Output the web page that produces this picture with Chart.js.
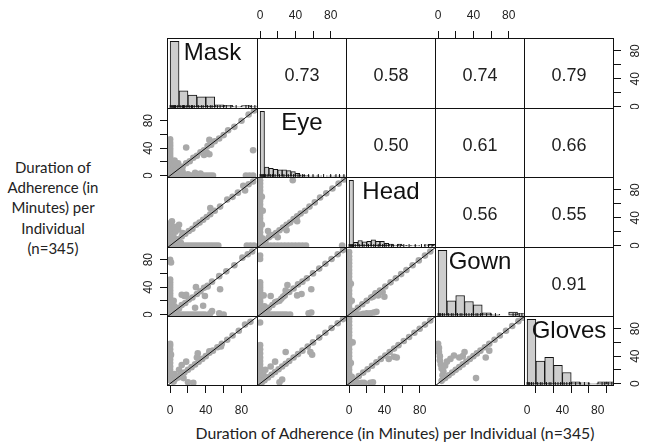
<!DOCTYPE html>
<html>
<head>
<meta charset="utf-8">
<script src="https://cdn.jsdelivr.net/npm/chart.js@4.4.1/dist/chart.umd.min.js"></script>
<style>
  html, body { margin: 0; padding: 0; background: #fff; }
  #wrap { position: relative; width: 655px; height: 443px; overflow: hidden; }
  #wrap canvas { position: absolute; }
  .lab { position: absolute; font-family: Lato, "Open Sans", sans-serif; color: #222; text-align: center; white-space: nowrap; }
</style>
</head>
<body>
<div id="wrap">
  <div class="lab" style="left:-2px;top:157px;width:110px;font-size:15px;line-height:20.2px;">Duration of<br>Adherence (in<br>Minutes) per<br>Individual<br>(n=345)</div>
  <div class="lab" style="left:160px;top:422px;width:470px;font-size:15.8px;line-height:21px;">Duration of Adherence (in Minutes) per Individual (n=345)</div>
</div>
<script>
// variables (diagonal), correlation text (upper triangle)
const variables = ['Mask', 'Eye', 'Head', 'Gown', 'Gloves'];
const correlations = [
  [null, 0.73, 0.58, 0.74, 0.79],
  [null, null, 0.50, 0.61, 0.66],
  [null, null, null, 0.56, 0.55],
  [null, null, null, null, 0.91]
];

// axis ticks
const tickValues = [0, 20, 40, 60, 80];
const tickLabels = ['0', '', '40', '', '80'];

// histogram bins and counts (n = 345)
const bins10 = [0, 10, 20, 30, 40, 50, 60, 70, 80, 90];
const bins5 = [0, 5, 10, 15, 20, 25, 30, 35, 40, 45, 50, 55, 60, 65, 70, 75, 80, 85, 90, 95];
const maskCounts = [187, 46, 34, 29, 29, 6, 5, 2, 4, 3];
const eyeCounts = [190, 26, 23, 20, 18, 18, 16, 13, 8, 3, 2, 1, 1, 1, 0, 1, 1, 1, 1, 1];
const headCounts = [201, 11, 17, 13, 14, 19, 14, 14, 8, 6, 3, 6, 2, 1, 1, 1, 0, 4, 5, 5];
const gownCounts = [172, 38, 52, 36, 27, 6, 2, 0, 8, 4];
const glovesCounts = [146, 52, 60, 42, 26, 5, 3, 1, 5, 5];

// rug values under each histogram
const maskRug = [0,1,2,3,4,5,6,8,10,12,14,15,16,18,20,22,24,25,27,30,32,35,37,40,42,45,47,50,53,56,60,63,68,74,85,88,91,95];
const eyeRug = [0,1,2,3,4,5,6,8,10,12,14,15,17,20,22,25,27,30,32,35,38,40,43,45,48,50,55,60,66,72,80,86,90,95];
const headRug = [0,1,2,3,4,5,7,10,12,15,17,20,22,25,28,30,33,35,38,40,42,45,48,50,55,58,62,68,75,82,86,90,94];
const gownRug = [0,1,2,3,5,7,10,12,15,17,20,22,25,27,30,32,35,38,40,43,45,48,50,55,60,65,85,88,92,95];
const glovesRug = [0,1,2,3,5,7,10,12,15,17,20,22,25,27,30,32,35,38,40,42,45,48,50,55,60,65,70,85,88,92,96];

// scatter panels: [x, y] in minutes (x = column variable, y = row variable)
const maskEye = [
  [0,0],[3,0],[6,0],[9,0],[12,0],[15,0],[18,0],[21,0],[24,0],[27,0],[30,0],[33,0],[36,0],[39,0],[42,0],[45,0],[48,0],[85,0],[89,0],[93,0],
  [0,4],[0,8],[0,12],[0,16],[0,20],[0,24],[0,28],[0,32],[0,36],[0,40],[0,44],[0,48],[0,53],
  [3,6],[4,14],[5,22],[7,10],[9,18],[10,3],[14,6],[20,2],[28,4],[34,3],
  [6,6],[10,10],[14,13],[18,18],[22,21],[26,26],[30,29],[34,34],[38,37],[42,43],[46,45],[50,50],[55,54],[60,59],[65,66],[72,71],[80,80],[88,89],[94,95],
  [18,41],[41,34],[44,31],[38,30],[93,37],[44,52]
];
const maskHead = [
  [0,0],[3,0],[6,0],[9,0],[12,0],[15,0],[18,0],[21,0],[24,0],[27,0],[30,0],[33,0],[36,0],[39,0],[42,0],[45,0],[48,0],[51,0],[54,0],[86,0],[90,0],[94,0],
  [0,4],[0,8],[0,12],[0,16],[0,20],[0,24],[0,28],[0,32],[2,35],
  [3,5],[4,12],[6,20],[8,8],[10,30],[12,4],[5,27],[9,23],[14,18],
  [5,5],[9,9],[13,13],[17,17],[21,21],[25,24],[29,30],[33,33],[37,37],[41,41],[45,45],[50,50],[56,56],[64,66],[70,70],[76,76],[82,86],[88,88],[93,92],
  [45,54],[84,79]
];
const eyeHead = [
  [0,4],[0,9],[0,14],[0,19],[0,24],[0,29],[0,34],[0,39],[0,44],[0,49],[0,54],[0,59],[0,64],[0,69],[0,74],[0,79],[0,84],[0,89],[0,94],
  [2,30],[3,50],[3,10],[5,5],[2,70],
  [0,0],[4,0],[8,0],[12,0],[16,0],[20,0],[24,0],[28,0],[32,0],[36,0],[40,0],[44,0],[48,0],[52,0],[93,0],
  [6,6],[10,12],[14,15],[18,18],[22,22],[26,26],[30,30],[34,33],[38,38],[42,42],[46,46],[51,50],[56,56],[62,62],[68,69],[75,75],[82,82],[89,89],[95,95],
  [9,21],[37,94],[42,35],[11,14],[20,12],[30,22]
];
const maskGown = [
  [0,3],[0,7],[0,11],[0,15],[0,19],[0,23],[0,27],[0,31],[0,35],[0,39],[0,43],[0,47],[0,51],[0,80],[1,76],
  [0,0],[3,0],[6,0],[9,0],[12,0],[15,0],[18,0],[21,0],[24,0],[27,0],[30,0],[33,0],[36,0],[39,0],[45,2],[55,2],[60,0],
  [3,6],[5,12],[7,4],[10,9],[4,20],[16,27],[13,29],[18,29],
  [29,40],[42,41],[56,37],[39,27],[37,13],[28,10],[47,5],
  [5,5],[9,9],[13,14],[17,17],[21,22],[25,25],[30,30],[34,34],[38,39],[42,42],[47,48],[55,56],[63,63],[72,72],[81,83],[87,88],[92,92]
];
const eyeGown = [
  [0,3],[0,7],[0,11],[0,15],[0,19],[0,23],[0,27],[0,31],[0,35],[0,39],[0,43],[0,47],[0,81],[0,86],
  [0,0],[3,0],[6,0],[9,0],[12,0],[15,0],[18,0],[21,0],[24,0],[27,0],[30,0],[34,0],[55,2],[58,3],
  [3,5],[5,12],[4,28],[8,7],[12,27],
  [17,18],[26,26],[42,28],[47,30],[31,43],[29,35],[58,37],[22,20],
  [5,5],[10,10],[14,14],[19,19],[24,23],[28,28],[33,33],[38,38],[43,44],[48,48],[53,53],[60,60],[67,67],[74,74],[81,81],[88,88],[94,94]
];
const headGown = [
  [0,0],[0,5],[0,10],[0,15],[0,20],[0,25],[0,30],[0,35],[0,40],[0,45],[0,50],[0,55],[0,60],[0,65],[0,70],[0,75],[0,80],[0,85],[0,91],
  [4,1],[8,1],[12,0],[16,1],[20,2],[24,2],[28,3],[31,4],
  [27,26],[38,33],[40,26],[30,31],[33,28],[2,45],[3,20],
  [5,5],[10,10],[15,15],[20,20],[25,25],[30,30],[35,35],[41,41],[47,47],[53,53],[59,59],[65,65],[72,72],[79,79],[86,86],[92,92]
];
const maskGloves = [
  [0,5],[0,10],[0,15],[0,20],[0,25],[0,30],[0,35],[0,40],[0,45],[0,50],[0,55],[0,58],
  [2,12],[5,14],[8,10],[12,13],[15,8],[4,3],[26,1],[20,2],
  [3,3],[6,7],[9,9],[12,12],[16,16],[20,20],[24,24],[28,28],[32,32],[36,36],[40,40],[44,45],[48,48],[53,53],[58,58],[64,64],[70,70],[77,77],[84,86],[90,90],
  [31,44],[18,32],[13,27],[44,47],[57,54],[1,42],[10,20],[30,38]
];
const eyeGloves = [
  [0,3],[0,8],[0,13],[0,18],[0,23],[0,28],[0,33],[0,38],[0,44],[0,50],[0,56],[0,89],
  [3,5],[4,12],[6,20],[2,2],
  [29,46],[17,32],[25,6],[22,2],[57,46],[59,42],[12,25],
  [5,5],[9,9],[13,13],[17,17],[21,21],[25,25],[29,29],[33,33],[38,38],[43,43],[48,48],[54,54],[60,60],[67,67],[74,74],[81,81],[88,88],[94,94]
];
const headGloves = [
  [0,0],[0,5],[0,10],[0,15],[0,20],[0,25],[0,30],[0,35],[0,40],[0,45],[0,50],[0,55],[0,60],[0,65],[0,70],[0,75],[0,80],[0,85],[0,90],[0,95],
  [4,1],[9,2],[14,1],[17,1],[24,1],[27,2],
  [51,39],[54,38],[45,36],[3,10],[2,30],[4,60],
  [6,6],[11,11],[16,16],[21,21],[26,26],[31,31],[36,36],[41,41],[46,46],[51,51],[56,56],[62,62],[68,68],[74,74],[80,80],[86,86],[92,92]
];
const gownGloves = [
  [0,58],[1,52],[1,46],[2,40],[2,34],[3,28],[4,22],[6,18],[8,26],[10,32],[5,12],
  [18,41],[28,40],[30,46],[24,38],[14,36],
  [54,38],[43,8],[58,48],
  [4,4],[8,8],[12,12],[16,16],[20,20],[24,24],[28,28],[32,32],[36,36],[40,40],[44,44],[48,48],[53,53],[58,58],[64,64],[70,70],[77,77],[84,84],[91,91],[96,96]
];

// y = x reference line end values
const refLine = [-10, 110];

// lookups built from the arrays above
const histograms = [
  { starts: bins10, width: 10, counts: maskCounts, rug: maskRug },
  { starts: bins5, width: 5, counts: eyeCounts, rug: eyeRug },
  { starts: bins5, width: 5, counts: headCounts, rug: headRug },
  { starts: bins10, width: 10, counts: gownCounts, rug: gownRug },
  { starts: bins10, width: 10, counts: glovesCounts, rug: glovesRug }
];
const scatterPoints = {
  '1,0': maskEye, '2,0': maskHead, '2,1': eyeHead,
  '3,0': maskGown, '3,1': eyeGown, '3,2': headGown,
  '4,0': maskGloves, '4,1': eyeGloves, '4,2': headGloves, '4,3': gownGloves
};

// layout
const colEdges = [167, 257, 346, 435, 524, 613];
const rowEdges = [38, 108, 177, 247, 316, 385];
const axisMin = -3.5, axisMax = 98.5;
const tickFont = { family: '"Liberation Sans", Arial, sans-serif', size: 12 };

Chart.defaults.animation = false;
Chart.defaults.responsive = false;
Chart.defaults.events = [];
Chart.defaults.plugins.legend.display = false;
Chart.defaults.plugins.tooltip.enabled = false;

function axisScale(isX, position, show, margin, pad) {
  return {
    type: 'linear',
    position: position,
    display: show,
    min: axisMin,
    max: axisMax,
    offset: false,
    grid: { drawOnChartArea: false, drawTicks: true, tickLength: 7, color: '#111', lineWidth: 1 },
    border: { display: false },
    ticks: {
      autoSkip: false,
      color: '#222',
      font: tickFont,
      padding: pad,
      minRotation: isX ? 0 : 90,
      maxRotation: isX ? 0 : 90,
      crossAlign: isX ? 'near' : 'center',
      callback: function (value) {
        const i = tickValues.indexOf(value);
        return i >= 0 ? tickLabels[i] : '';
      }
    },
    afterBuildTicks: function (scale) {
      scale.ticks = tickValues.map(v => ({ value: v }));
    },
    afterFit: function (scale) {
      if (isX) scale.height = margin; else scale.width = margin;
      scale.paddingLeft = 0; scale.paddingRight = 0;
      scale.paddingTop = 0; scale.paddingBottom = 0;
    }
  };
}

function decorPlugin(label, corr) {
  return {
    id: 'panelDecor',
    afterDraw(chart) {
      const ctx = chart.ctx, a = chart.chartArea;
      const cx = (a.left + a.right) / 2;
      ctx.save();
      ctx.textAlign = 'center';
      ctx.textBaseline = 'middle';
      if (label) {
        ctx.fillStyle = '#111';
        ctx.font = '24px "Liberation Sans", Arial, sans-serif';
        ctx.fillText(label, cx, a.top + 15);
      }
      if (corr !== null && corr !== undefined) {
        ctx.fillStyle = '#222';
        ctx.font = '18px "Liberation Sans", Arial, sans-serif';
        ctx.fillText(corr.toFixed(2), cx, (a.top + a.bottom) / 2 + 3);
      }
      ctx.strokeStyle = '#111';
      ctx.lineWidth = 1;
      ctx.strokeRect(a.left + 0.5, a.top + 0.5, a.right - a.left - 1, a.bottom - a.top - 1);
      ctx.restore();
    }
  };
}

const wrap = document.getElementById('wrap');

for (let r = 0; r < 5; r++) {
  for (let c = 0; c < 5; c++) {
    const showTop = r === 0 && c % 2 === 1;
    const showBottom = r === 4 && c % 2 === 0;
    const showLeft = c === 0 && r % 2 === 1;
    const showRight = c === 4 && r % 2 === 0;
    const ml = showLeft ? 60 : 0, mr = showRight ? 42 : 0;
    const mt = showTop ? 38 : 0, mb = showBottom ? 40 : 0;

    const cv = document.createElement('canvas');
    const w = colEdges[c + 1] - colEdges[c] + 1 + ml + mr;
    const h = rowEdges[r + 1] - rowEdges[r] + 1 + mt + mb;
    cv.width = w; cv.height = h;
    cv.style.left = (colEdges[c] - ml) + 'px';
    cv.style.top = (rowEdges[r] - mt) + 'px';
    cv.style.width = w + 'px'; cv.style.height = h + 'px';
    wrap.appendChild(cv);

    const scales = {
      x: showTop ? axisScale(true, 'top', true, mt, 8)
                 : axisScale(true, 'bottom', showBottom, mb, 10),
      y: showLeft ? axisScale(false, 'left', true, ml, 5)
                  : axisScale(false, 'right', showRight, mr, 8)
    };

    let type = 'scatter', datasets = [], label = null, corr = null;

    if (r === c) {
      const hist = histograms[r];
      const top = Math.max(...hist.counts);
      type = 'bar';
      label = variables[r];
      scales.yh = { type: 'linear', display: false, min: -0.03 * top, max: 1.05 * top };
      datasets = [
        {
          type: 'bar',
          yAxisID: 'yh',
          data: hist.starts.map((s, i) => ({ x: s + hist.width / 2, y: hist.counts[i] })),
          backgroundColor: '#cdcdcd',
          borderColor: '#111',
          borderWidth: 1,
          borderSkipped: false,
          barPercentage: 1,
          categoryPercentage: 1,
          order: 2
        },
        {
          type: 'scatter',
          yAxisID: 'yh',
          data: hist.rug.map(v => ({ x: v, y: 0 })),
          pointStyle: 'line',
          rotation: 90,
          pointRadius: 2,
          borderColor: '#111',
          borderWidth: 1,
          order: 1
        }
      ];
    } else if (r > c) {
      datasets = [
        {
          data: refLine.map(v => ({ x: v, y: v })),
          showLine: true,
          borderColor: '#111',
          borderWidth: 1,
          pointRadius: 0,
          clip: 0,
          order: 0
        },
        {
          data: scatterPoints[r + ',' + c].map(p => ({ x: p[0], y: p[1] })),
          pointRadius: 3.3,
          backgroundColor: '#a9a9a9',
          borderWidth: 0,
          clip: 0,
          order: 1
        }
      ];
    } else {
      corr = correlations[r][c];
    }

    new Chart(cv, {
      type: type,
      data: { datasets: datasets },
      options: {
        layout: { padding: 0, autoPadding: false },
        scales: scales
      },
      plugins: [decorPlugin(label, corr)]
    });
  }
}
</script>
</body>
</html>
